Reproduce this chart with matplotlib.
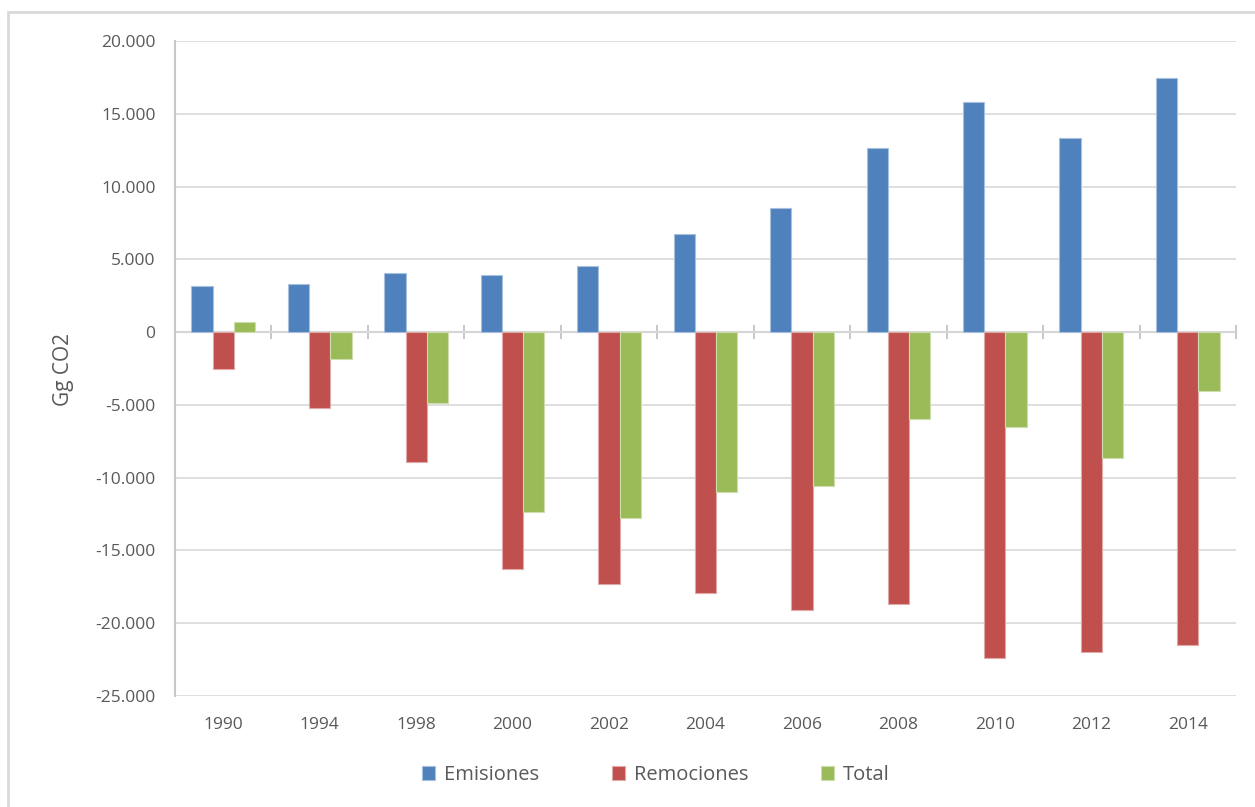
import matplotlib
matplotlib.use("Agg")
import matplotlib.pyplot as plt
from matplotlib.ticker import FuncFormatter, MultipleLocator
from matplotlib.patches import Rectangle
import numpy as np

years = ["1990", "1994", "1998", "2000", "2002", "2004", "2006", "2008", "2010", "2012", "2014"]
emisiones = [3200, 3300, 4030, 3920, 4530, 6770, 8520, 12640, 15790, 13350, 17470]
remociones = [-2560, -5230, -8920, -16280, -17320, -17940, -19060, -18710, -22380, -21970, -21520]
total = [680, -1880, -4860, -12340, -12770, -11010, -10580, -6000, -6530, -8650, -4080]

series_names = ["Emisiones", "Remociones", "Total"]
colors = ["#4F81BD", "#C0504D", "#9BBB59"]
edge_colors = ["#A7C0DE", "#E0A8A6", "#CDDDAC"]

plt.rcParams['font.family'] = ['Open Sans', 'DejaVu Sans']

W, H = 1255, 807
fig = plt.figure(figsize=(W / 100, H / 100), dpi=100)
fig.patch.set_facecolor("white")

# outer chart border (top and left visible)
fig.add_artist(Rectangle((8 / W, -0.05), 1.2, 1 - 12 / H + 0.05, transform=fig.transFigure,
                         fill=False, edgecolor="#D9D9D9", linewidth=2))

left, right, top, bottom = 175, 1236, 41, 696
ax = fig.add_axes([left / W, 1 - bottom / H, (right - left) / W, (bottom - top) / H])

x = np.arange(len(years))
bw = 0.22
for i, (vals, c, ec, name) in enumerate(zip([emisiones, remociones, total], colors, edge_colors, series_names)):
    ax.bar(x + (i - 1) * bw, vals, width=bw, color=c, edgecolor=ec, linewidth=0.8, label=name, zorder=3)

ax.set_xlim(-0.5, len(years) - 0.5)
ax.set_ylim(-25000, 20000)
ax.yaxis.set_major_locator(MultipleLocator(5000))

def fmt(v, pos):
    s = f"{abs(int(round(v))):,}".replace(",", ".")
    return ("-" + s) if v < 0 else s

ax.yaxis.set_major_formatter(FuncFormatter(fmt))
ax.grid(axis="y", color="#D9D9D9", linewidth=1.2, zorder=0)
ax.set_axisbelow(True)

for s in ["top", "right", "bottom"]:
    ax.spines[s].set_visible(False)
ax.spines["left"].set_color("#C8C8C8")
ax.spines["left"].set_linewidth(1.5)

ax.set_xticks(x)
ax.set_xticklabels(years)
ax.tick_params(axis="x", length=0, pad=15, labelsize=12.5, labelcolor="#595959")
ax.tick_params(axis="y", length=0, pad=14, labelsize=12.5, labelcolor="#595959")

# category axis at zero with cross tick marks between categories
sec = ax.secondary_xaxis(0, transform=ax.transData)
sec.set_xticks(np.arange(len(years) + 1) - 0.5)
sec.tick_params(axis="x", direction="inout", length=10, width=1.2, color="#BFBFBF", labelbottom=False)
sec.spines["bottom"].set_color("#C8C8C8")
sec.spines["bottom"].set_linewidth(1.5)

fig.text(64 / W, 1 - 369 / H, "Gg CO2", rotation=90, ha="center", va="center",
         fontsize=15, color="#595959")

leg = fig.legend(loc="center", bbox_to_anchor=(656 / W, 1 - 775 / H), ncol=3, frameon=False,
                 fontsize=14.5, handlelength=0.65, handleheight=0.65, handletextpad=0.45,
                 columnspacing=3.6, labelcolor="#595959")

fig.savefig("out.png", dpi=100, facecolor="white")
